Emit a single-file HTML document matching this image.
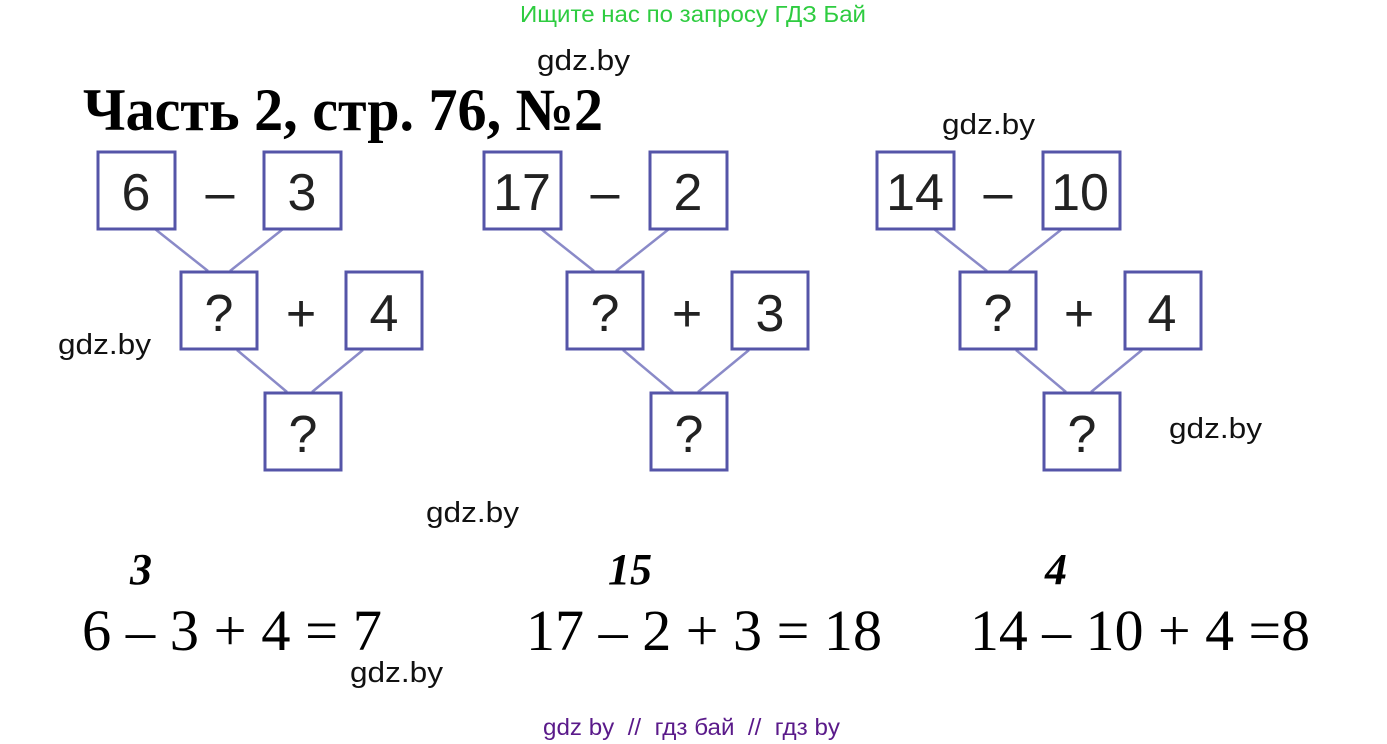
<!DOCTYPE html>
<html><head><meta charset="utf-8"><style>
html,body{margin:0;padding:0;background:#fff}
svg{display:block}
.w{font-family:"Liberation Sans",sans-serif;font-size:29px;fill:#111}
.d{font-family:"Liberation Sans",sans-serif;font-size:52px;fill:#222}
.s{font-family:"Liberation Serif",serif}
</style></head><body>
<svg width="1387" height="744" viewBox="0 0 1387 744" xmlns="http://www.w3.org/2000/svg">
<text x="520" y="22" font-family="Liberation Sans,sans-serif" font-size="23" fill="#2ecc40" textLength="346" lengthAdjust="spacingAndGlyphs">Ищите нас по запросу ГДЗ Бай</text>
<text class="w" x="537" y="70" textLength="93" lengthAdjust="spacingAndGlyphs">gdz.by</text>
<text class="s" x="83" y="130" font-size="60" font-weight="bold" fill="#000" textLength="520" lengthAdjust="spacingAndGlyphs">Часть 2, стр. 76, №2</text>
<text class="w" x="942" y="134" textLength="93" lengthAdjust="spacingAndGlyphs">gdz.by</text>
<text class="w" x="58" y="354" textLength="93" lengthAdjust="spacingAndGlyphs">gdz.by</text>
<text class="w" x="1169" y="438" textLength="93" lengthAdjust="spacingAndGlyphs">gdz.by</text>
<text class="w" x="426" y="522" textLength="93" lengthAdjust="spacingAndGlyphs">gdz.by</text>
<text class="w" x="350" y="682" textLength="93" lengthAdjust="spacingAndGlyphs">gdz.by</text>

<defs>
<g id="t" fill="none" stroke="#8a8ac8" stroke-width="2.5">
<line x1="155" y1="229" x2="208" y2="271"/><line x1="283" y1="229" x2="230" y2="271"/>
<line x1="237" y1="350" x2="287" y2="392"/><line x1="363" y1="350" x2="312" y2="392"/>
</g>
<g id="b" fill="#fff" stroke="#5555a8" stroke-width="3">
<rect x="98" y="152" width="77" height="77"/><rect x="264" y="152" width="77" height="77"/>
<rect x="181" y="272" width="76" height="77"/><rect x="346" y="272" width="76" height="77"/>
<rect x="265" y="393" width="76" height="77"/>
</g>
</defs>
<use href="#t"/><use href="#b"/>
<use href="#t" x="386"/><use href="#b" x="386"/>
<use href="#t" x="779"/><use href="#b" x="779"/>

<g class="d" text-anchor="middle">
<text x="136" y="210">6</text><text x="220" y="210">–</text><text x="302" y="210">3</text>
<text x="219" y="331">?</text><text x="301" y="331">+</text><text x="384" y="331">4</text>
<text x="303" y="452">?</text>

<text x="522" y="210">17</text><text x="605" y="210">–</text><text x="688" y="210">2</text>
<text x="605" y="331">?</text><text x="687" y="331">+</text><text x="770" y="331">3</text>
<text x="689" y="452">?</text>

<text x="915" y="210">14</text><text x="998" y="210">–</text><text x="1080" y="210">10</text>
<text x="998" y="331">?</text><text x="1079" y="331">+</text><text x="1162" y="331">4</text>
<text x="1082" y="452">?</text>
</g>

<g class="s" font-style="italic" font-weight="bold" font-size="44" fill="#000">
<text x="130" y="584">3</text>
<text x="608" y="584">15</text>
<text x="1045" y="584">4</text>
</g>
<g class="s" font-size="58" fill="#000">
<text x="82" y="650" textLength="300" lengthAdjust="spacingAndGlyphs">6 – 3 + 4 = 7</text>
<text x="526" y="650" textLength="356" lengthAdjust="spacingAndGlyphs">17 – 2 + 3 = 18</text>
<text x="970" y="650" textLength="340" lengthAdjust="spacingAndGlyphs">14 – 10 + 4 =8</text>
</g>
<text x="543" y="735" font-family="Liberation Sans,sans-serif" font-size="23" fill="#5a1a8a" xml:space="preserve" textLength="297" lengthAdjust="spacingAndGlyphs">gdz by  //  гдз бай  //  гдз by</text>
</svg>
</body></html>
